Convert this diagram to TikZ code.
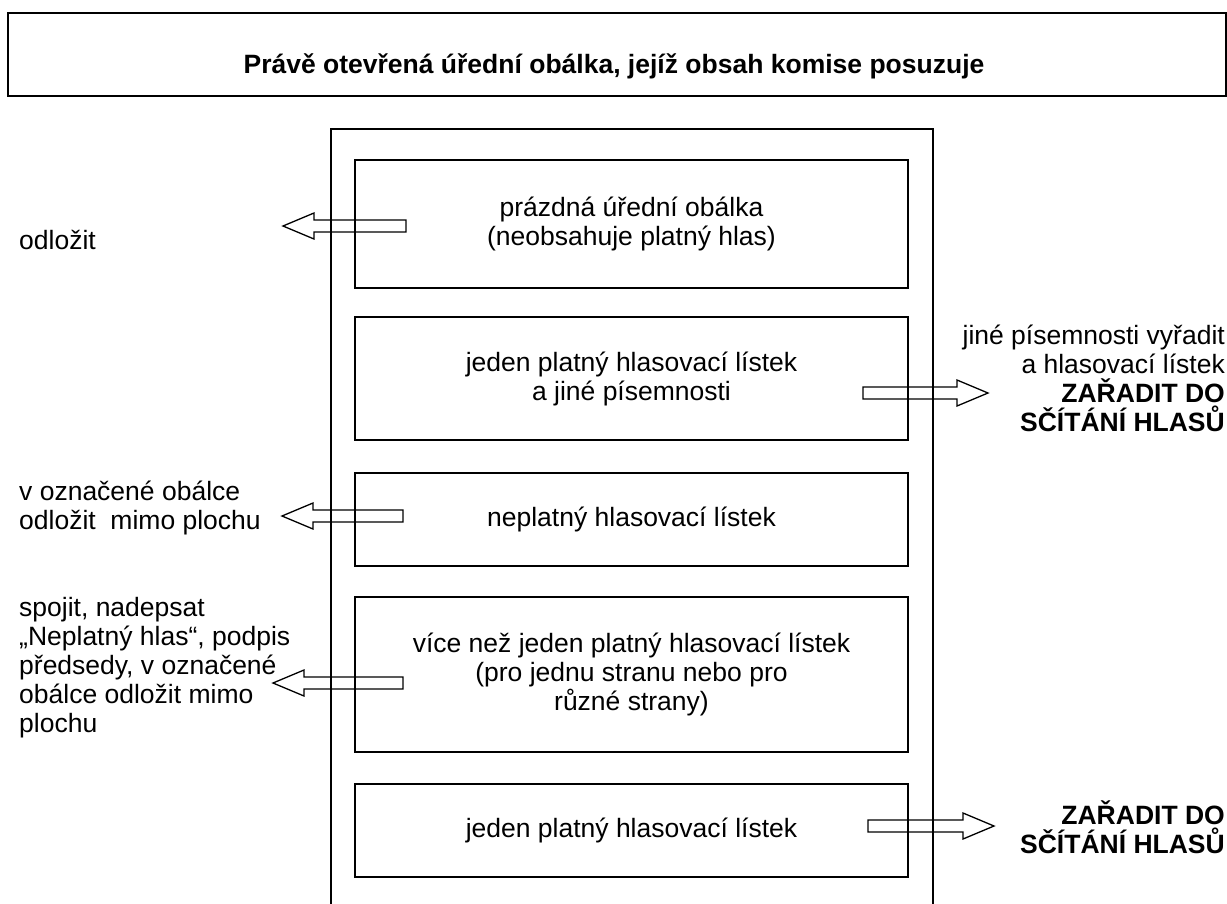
\documentclass[tikz,border=0pt]{standalone}
\usepackage{fontspec}
\setmainfont{Liberation Sans}
\usetikzlibrary{calc}
\tikzset{
  frame/.style={draw, line width=2pt, rectangle, inner sep=0pt},
  casebox/.style={frame, minimum width=553pt, align=center, font=\fontsize{26.5}{29}\selectfont},
  lbl/.style={inner sep=0pt, font=\fontsize{26.5}{29}\selectfont},
  blockarr/.style={draw, line width=1.3pt, line join=miter},
}
\newcommand\blockarrow[2]{%
  \path[blockarr] let \p1=(#1), \p2=(#2), \n2={sign(\x2-\x1)*31pt} in
    (\x1,\y1+6pt) -- (\x2-\n2,\y1+6pt) -- (\x2-\n2,\y1+13pt) -- (\x2,\y1)
    -- (\x2-\n2,\y1-13pt) -- (\x2-\n2,\y1-6pt) -- (\x1,\y1-6pt) -- cycle;}
\begin{document}
\begin{tikzpicture}[x=1pt,y=-1pt]
\useasboundingbox (0,0) rectangle (1227,903);
\clip (0,0) rectangle (1227,903);
% top box
\node[frame, minimum width=1218pt, minimum height=83pt] (top) at (617,54.5) {};
\node[lbl, font=\fontsize{26.5}{29}\selectfont\bfseries] (title) at (614,66)
  {Právě otevřená úřední obálka, jejíž obsah komise posuzuje};
% outer frame (open at the bottom)
\node[frame, minimum width=602pt, minimum height=820pt, anchor=north] (outer) at (632,128) {};
% case boxes
\node[casebox, minimum height=128pt] (b1) at (631.5,224)
  {prázdná úřední obálka\\(neobsahuje platný hlas)};
\node[casebox, minimum height=123pt] (b2) at (631.5,378.5)
  {jeden platný hlasovací lístek\\a jiné písemnosti};
\node[casebox, minimum height=93pt] (b3) at (631.5,519.5)
  {neplatný hlasovací lístek};
\node[casebox, minimum height=155pt] (b4) at (631.5,674.5)
  {více než jeden platný hlasovací lístek\\(pro jednu stranu nebo pro\\různé strany)};
\node[casebox, minimum height=93pt] (b5) at (631.5,830.5)
  {jeden platný hlasovací lístek};
% side labels
\node[lbl, anchor=west] (l1) at (19,240) {odložit};
\node[lbl, anchor=west, align=left] (l3) at (19,508)
  {v označené obálce\\odložit\ \ mimo plochu};
\node[lbl, anchor=west, align=left] (l4) at (19,668)
  {spojit, nadepsat\\„Neplatný hlas“, podpis\\předsedy, v označené\\obálce odložit mimo\\plochu};
\node[lbl, anchor=east, align=right] (r2) at (1225,378)
  {jiné písemnosti vyřadit\\a hlasovací lístek\\\textbf{ZAŘADIT DO}\\\textbf{SČÍTÁNÍ HLASŮ}};
\node[lbl, anchor=east, align=right] (r5) at (1225,827)
  {\textbf{ZAŘADIT DO}\\\textbf{SČÍTÁNÍ HLASŮ}};
% arrow ends
\coordinate (s1) at (406,226);  \coordinate (t1) at (283,226);
\coordinate (s2) at (863,393);  \coordinate (t2) at (988,393);
\coordinate (s3) at (403,516);  \coordinate (t3) at (282,516);
\coordinate (s4) at (403,683);  \coordinate (t4) at (273,683);
\coordinate (s5) at (868,826);  \coordinate (t5) at (994,826);
\blockarrow{s1}{t1}
\blockarrow{s2}{t2}
\blockarrow{s3}{t3}
\blockarrow{s4}{t4}
\blockarrow{s5}{t5}
\end{tikzpicture}
\end{document}
